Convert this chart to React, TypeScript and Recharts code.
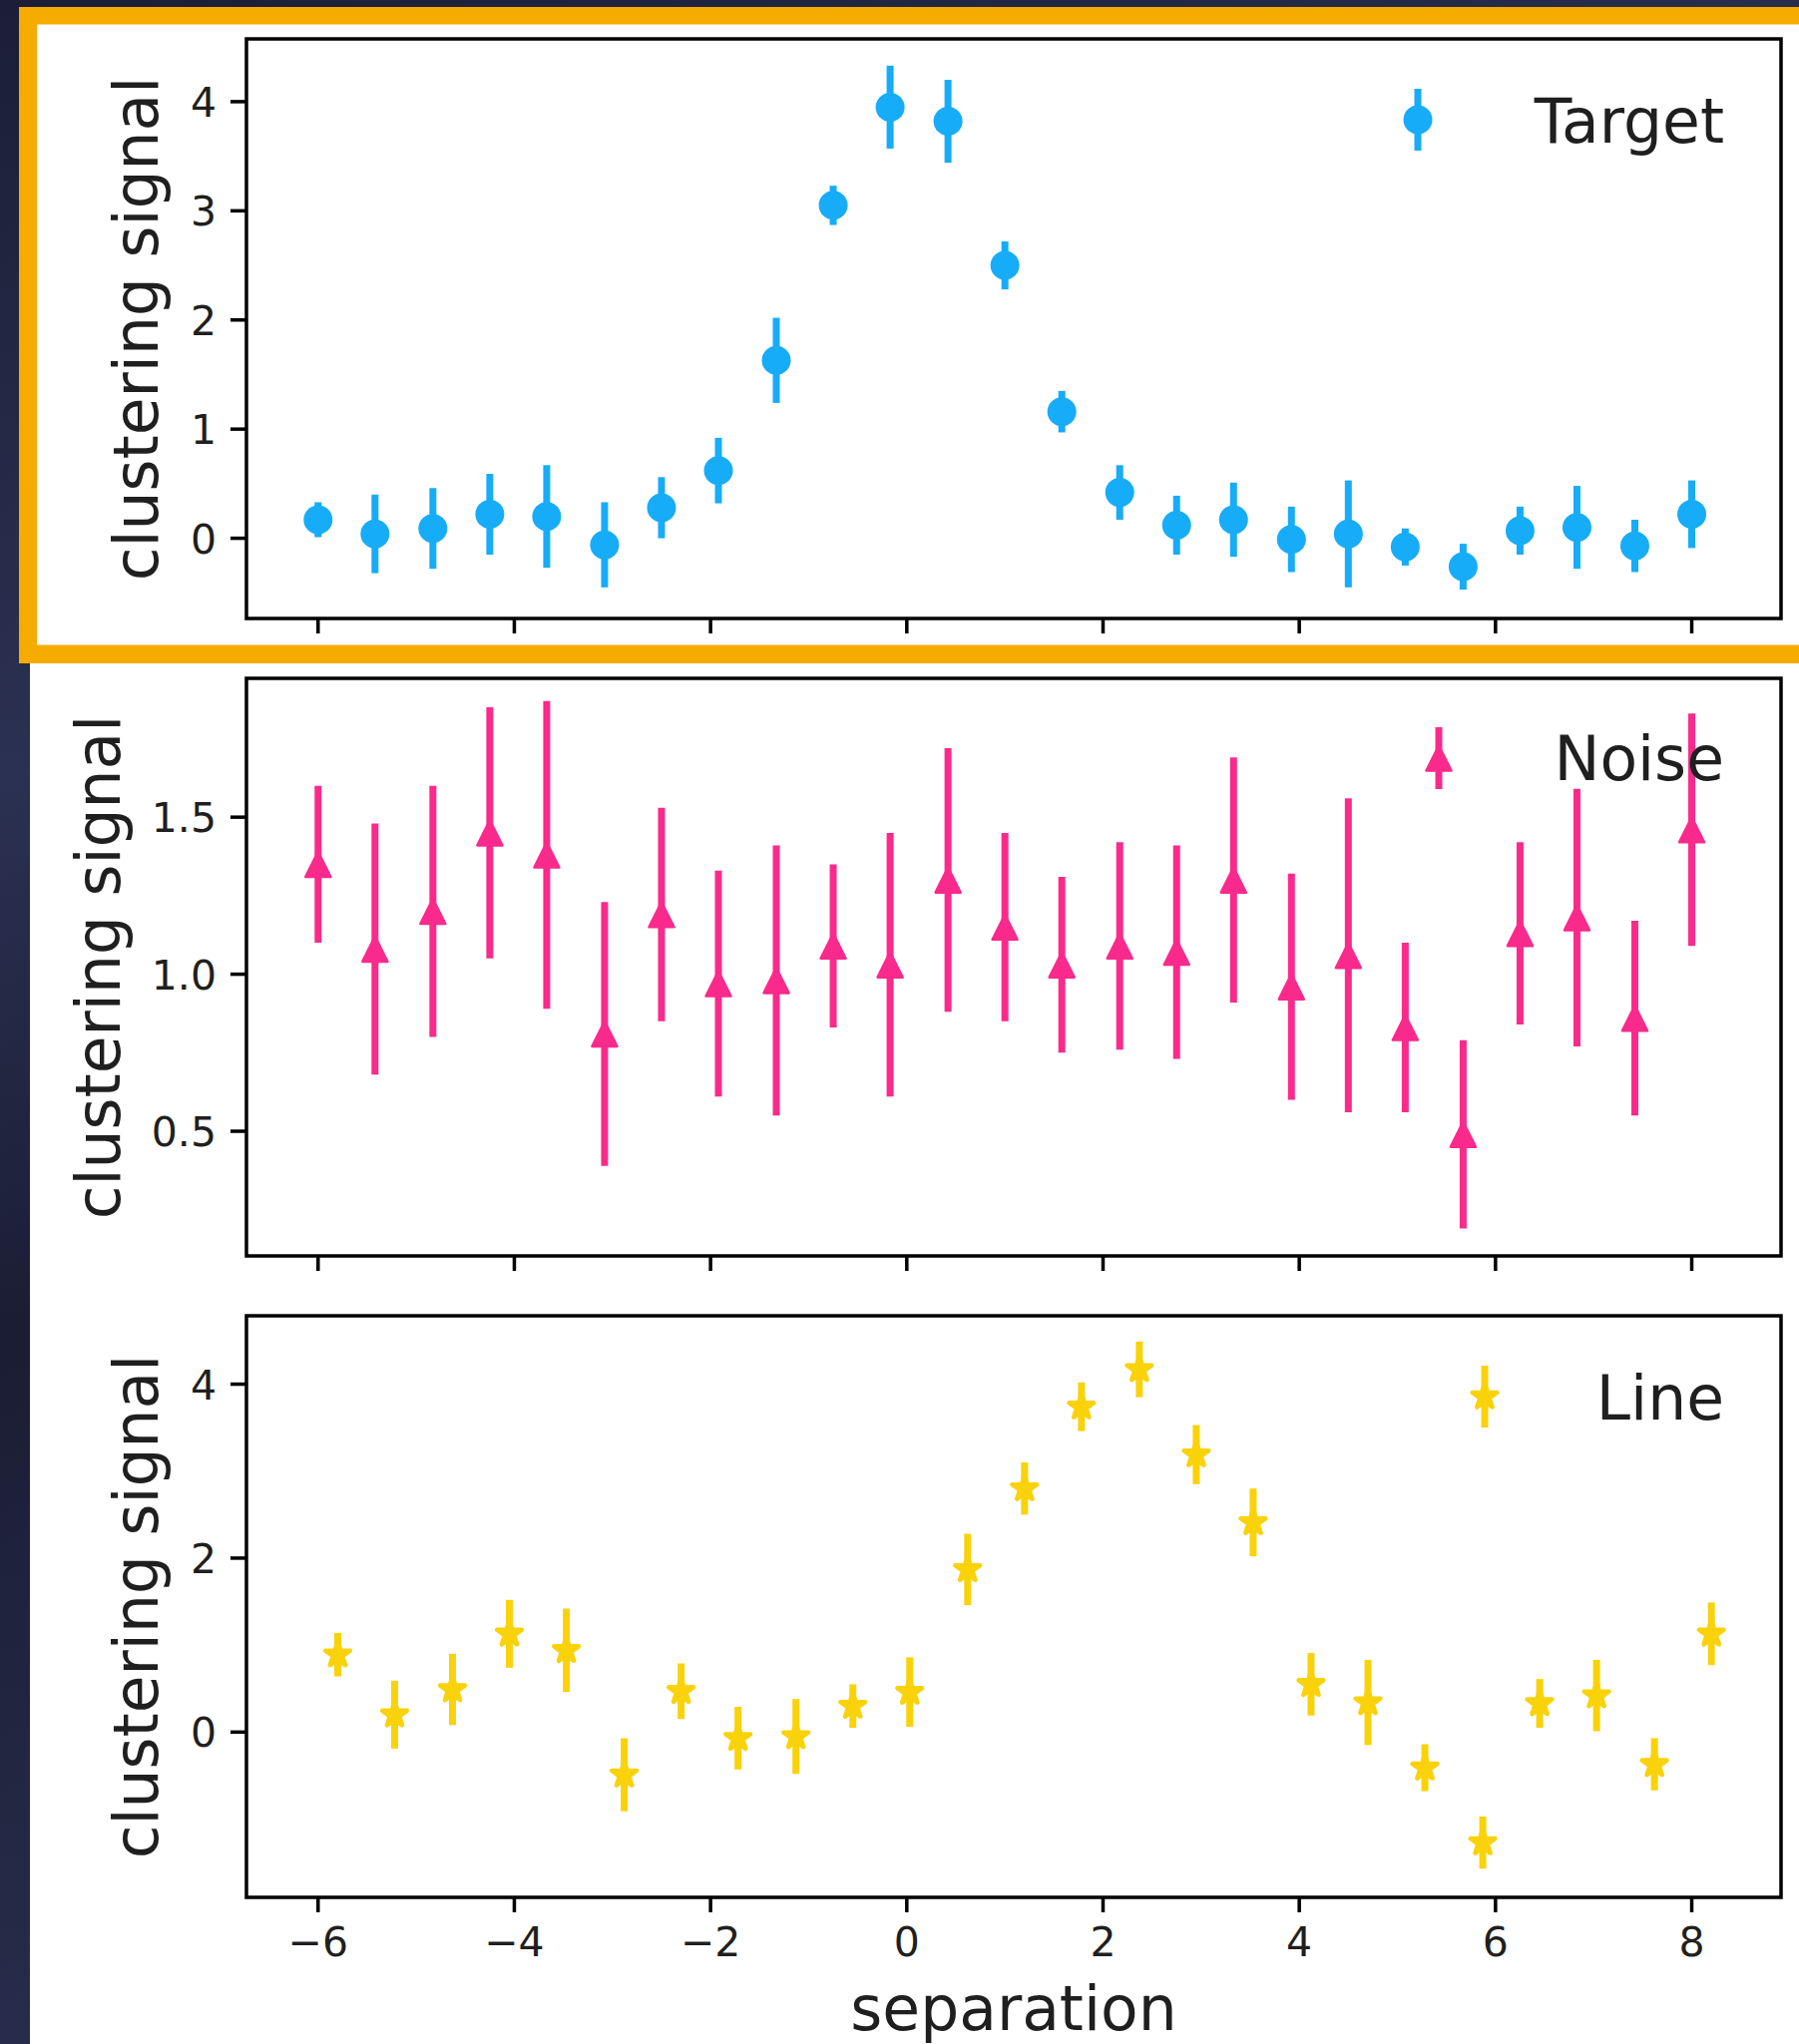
import React from "react";
import { ScatterChart, Scatter, XAxis, YAxis, ErrorBar, ReferenceArea } from "recharts";

// separation of each bin (Line bins are offset by +0.2)
const separation = [
  -6.0, -5.42, -4.83, -4.25, -3.67, -3.08, -2.5, -1.92, -1.33, -0.75, -0.17, 0.42, 1.0,
  1.58, 2.17, 2.75, 3.33, 3.92, 4.5, 5.08, 5.67, 6.25, 6.83, 7.42, 8.0,
];
const lineSeparation = [
  -5.8, -5.22, -4.63, -4.05, -3.47, -2.88, -2.3, -1.72, -1.13, -0.55, 0.03, 0.62, 1.2,
  1.78, 2.37, 2.95, 3.53, 4.12, 4.7, 5.28, 5.87, 6.45, 7.03, 7.62, 8.2,
];

const targetSignal = [
  0.17, 0.04, 0.09, 0.22, 0.2, -0.06, 0.28, 0.62, 1.63, 3.05, 3.95, 3.82, 2.5, 1.16, 0.42,
  0.12, 0.17, -0.01, 0.04, -0.08, -0.26, 0.07, 0.1, -0.07, 0.22,
];
const targetErr = [
  0.16, 0.36, 0.37, 0.37, 0.47, 0.39, 0.28, 0.3, 0.39, 0.18, 0.38, 0.38, 0.22, 0.19, 0.25,
  0.27, 0.34, 0.3, 0.49, 0.17, 0.21, 0.22, 0.38, 0.24, 0.31,
];

const noiseSignal = [
  1.35, 1.08, 1.2, 1.45, 1.38, 0.81, 1.19, 0.97, 0.98, 1.09, 1.03, 1.3, 1.15, 1.03, 1.09,
  1.07, 1.3, 0.96, 1.06, 0.83, 0.49, 1.13, 1.18, 0.86, 1.46,
];
const noiseErr = [
  0.25, 0.4, 0.4, 0.4, 0.49, 0.42, 0.34, 0.36, 0.43, 0.26, 0.42, 0.42, 0.3, 0.28, 0.33,
  0.34, 0.39, 0.36, 0.5, 0.27, 0.3, 0.29, 0.41, 0.31, 0.37,
];

const lineSignal = [
  0.89, 0.2, 0.49, 1.13, 0.94, -0.49, 0.47, -0.07, -0.05, 0.3, 0.46, 1.87, 2.8, 3.74, 4.17,
  3.19, 2.41, 0.55, 0.34, -0.41, -1.27, 0.33, 0.42, -0.37, 1.13,
];
const lineErr = [
  0.25, 0.39, 0.41, 0.39, 0.48, 0.42, 0.32, 0.36, 0.43, 0.25, 0.4, 0.41, 0.3, 0.28, 0.32,
  0.34, 0.39, 0.36, 0.49, 0.27, 0.3, 0.28, 0.41, 0.3, 0.36,
];

const xTicks = [-6, -4, -2, 0, 2, 4, 6, 8];
const targetTicks = [0, 1, 2, 3, 4];
const noiseTicks = [0.5, 1.0, 1.5];
const lineTicks = [0, 2, 4];

const BLUE = "#17acf8";
const PINK = "#fa2a8c";
const GOLD = "#f9d20a";
const FONT = "'DejaVu Sans', Verdana, sans-serif";
const INK = "#1f1f1f";

const W = 1803;
const H = 2049;
const xDomain: [number, number] = [-6.73, 8.91];

const rows = (xs: number[], ys: number[], errs: number[]) =>
  xs.map((x, i) => ({ x, y: ys[i], err: errs[i] }));

const fmt = (v: number, digits: number) => {
  const s = Math.abs(v).toFixed(digits);
  return v < 0 ? `\u2212${s}` : s;
};

// markers, matplotlib style: 'o', '^', '*' (with an edge in the face colour)
const dot = (color: string) => (p: any) => <circle cx={p.cx} cy={p.cy} r={14.5} fill={color} />;

const triangle = (color: string) => (p: any) => {
  const s = 12.5;
  return (
    <path
      d={`M${p.cx},${p.cy - s} L${p.cx - s},${p.cy + s} L${p.cx + s},${p.cy + s} Z`}
      fill={color}
      stroke={color}
      strokeWidth={2.5}
      strokeLinejoin="round"
    />
  );
};

const star = (color: string) => (p: any) => {
  const R = 13;
  const r = R * 0.382;
  const pts: string[] = [];
  for (let k = 0; k < 10; k++) {
    const a = -Math.PI / 2 + (k * Math.PI) / 5;
    const rad = k % 2 === 0 ? R : r;
    pts.push(`${p.cx + rad * Math.cos(a)},${p.cy + rad * Math.sin(a)}`);
  }
  return (
    <polygon
      points={pts.join(" ")}
      fill={color}
      stroke={color}
      strokeWidth={4.5}
      strokeLinejoin="round"
    />
  );
};

const emptyTick = () => <g />;

const xTickLabel = (p: any) => (
  <text x={p.x} y={p.y} dy={30} textAnchor="middle" fontSize={41} fontFamily={FONT} fill={INK}>
    {fmt(p.payload.value, 0)}
  </text>
);

const yTickLabel = (digits: number) => (p: any) => (
  <text x={p.x} y={p.y} dy={15} textAnchor="end" fontSize={41} fontFamily={FONT} fill={INK}>
    {fmt(p.payload.value, digits)}
  </text>
);

type PanelProps = {
  top: number;
  plotHeight: number;
  xAxisHeight: number;
  data: { x: number; y: number; err: number }[];
  color: string;
  domain: [number, number];
  ticks: number[];
  digits: number;
  shape: (p: any) => React.ReactElement;
  showXLabels: boolean;
};

function Panel({ top, plotHeight, xAxisHeight, data, color, domain, ticks, digits, shape, showXLabels }: PanelProps) {
  const margin = { top: 10, right: 18, bottom: 0, left: 0 };
  return (
    <div style={{ position: "absolute", left: 0, top: top - margin.top }}>
      <ScatterChart width={W} height={margin.top + plotHeight + xAxisHeight} margin={margin}>
        <XAxis
          type="number"
          dataKey="x"
          domain={xDomain}
          ticks={xTicks}
          interval={0}
          allowDataOverflow
          axisLine={false}
          tickLine={{ stroke: "#000", strokeWidth: 3.5 }}
          tickSize={15}
          tickMargin={14}
          height={xAxisHeight}
          tick={showXLabels ? xTickLabel : emptyTick}
        />
        <YAxis
          type="number"
          dataKey="y"
          domain={domain}
          ticks={ticks}
          interval={0}
          allowDataOverflow
          axisLine={false}
          width={247}
          tickLine={{ stroke: "#000", strokeWidth: 3.5 }}
          tickSize={16}
          tickMargin={14}
          tick={yTickLabel(digits)}
        />
        <ReferenceArea
          x1={xDomain[0]}
          x2={xDomain[1]}
          y1={domain[0]}
          y2={domain[1]}
          fill="none"
          fillOpacity={0}
          stroke="#000"
          strokeWidth={3.5}
          ifOverflow="visible"
        />
        <Scatter data={data} fill={color} shape={shape} isAnimationActive={false}>
          <ErrorBar dataKey="err" direction="y" width={0} stroke={color} strokeWidth={7} />
        </Scatter>
      </ScatterChart>
    </div>
  );
}

function LegendItem({ x, y, label, color, shape, baseline }: any) {
  return (
    <g>
      <line x1={x} x2={x} y1={y - 31} y2={y + 31} stroke={color} strokeWidth={7} />
      {shape({ cx: x, cy: y })}
      <text x={1728} y={baseline} textAnchor="end" fontSize={61.5} fontFamily={FONT} fill={INK}>
        {label}
      </text>
    </g>
  );
}

export default function App() {
  return (
    <div style={{ position: "absolute", left: 0, top: 0, width: W, height: H, overflow: "hidden" }}>
      <svg width={W} height={H} style={{ position: "absolute", left: 0, top: 0 }}>
        <defs>
          <linearGradient id="space" x1="0" y1="0" x2="0.3" y2="1">
            <stop offset="0" stopColor="#1b1e36" />
            <stop offset="0.35" stopColor="#2b3152" />
            <stop offset="0.6" stopColor="#1a1d33" />
            <stop offset="1" stopColor="#2a3050" />
          </linearGradient>
        </defs>
        <rect x={0} y={0} width={W} height={H} fill="url(#space)" />
        <rect x={30} y={7} width={W - 30} height={H - 7} fill="#ffffff" />
        <rect x={19} y={7} width={W - 19} height={17.5} fill="#f6ab00" />
        <rect x={19} y={7} width={18} height={658} fill="#f6ab00" />
        <rect x={19} y={646.5} width={W - 19} height={18.5} fill="#f6ab00" />
      </svg>

      <Panel
        top={39}
        plotHeight={581}
        xAxisHeight={30}
        data={rows(separation, targetSignal, targetErr)}
        color={BLUE}
        domain={[-0.735, 4.575]}
        ticks={targetTicks}
        digits={0}
        shape={dot(BLUE)}
        showXLabels={false}
      />
      <Panel
        top={680}
        plotHeight={579}
        xAxisHeight={30}
        data={rows(separation, noiseSignal, noiseErr)}
        color={PINK}
        domain={[0.103, 1.942]}
        ticks={noiseTicks}
        digits={1}
        shape={triangle(PINK)}
        showXLabels={false}
      />
      <Panel
        top={1319}
        plotHeight={583}
        xAxisHeight={90}
        data={rows(lineSeparation, lineSignal, lineErr)}
        color={GOLD}
        domain={[-1.9, 4.786]}
        ticks={lineTicks}
        digits={0}
        shape={star(GOLD)}
        showXLabels={true}
      />

      <svg width={W} height={H} style={{ position: "absolute", left: 0, top: 0, pointerEvents: "none" }}>
        <g fontFamily={FONT} fontSize={61.5} fill={INK} textAnchor="middle">
          <text transform="translate(158,329.5) rotate(-90)">clustering signal</text>
          <text transform="translate(120,969.5) rotate(-90)">clustering signal</text>
          <text transform="translate(158,1610.5) rotate(-90)">clustering signal</text>
          <text x={1016} y={2035}>separation</text>
        </g>
        <LegendItem x={1421} y={120} baseline={143} label="Target" color={BLUE} shape={dot(BLUE)} />
        <LegendItem x={1442} y={760} baseline={782} label="Noise" color={PINK} shape={triangle(PINK)} />
        <LegendItem x={1488} y={1400} baseline={1423} label="Line" color={GOLD} shape={star(GOLD)} />
      </svg>
    </div>
  );
}
